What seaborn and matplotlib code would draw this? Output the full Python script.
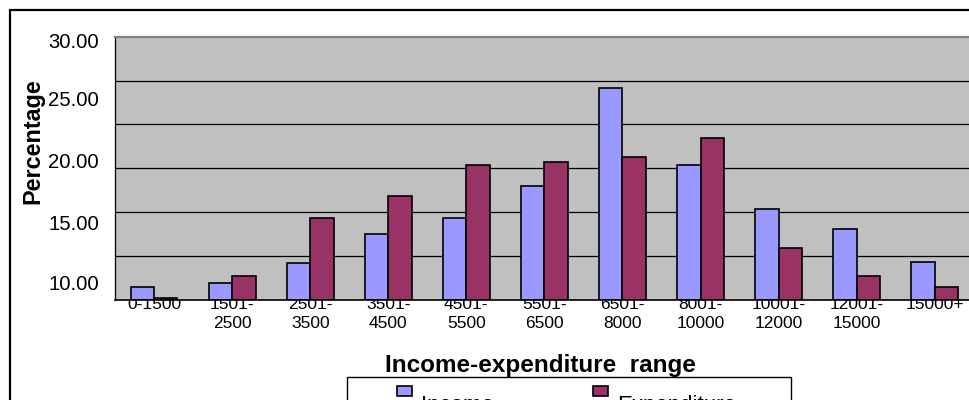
import numpy as np
import pandas as pd
import matplotlib
matplotlib.use("Agg")
import matplotlib.pyplot as plt
from matplotlib.patches import Rectangle
from matplotlib.ticker import FixedLocator, FixedFormatter
import seaborn as sns

# ---------------- data ----------------
categories = ["0-1500", "1501-2500", "2501-3500", "3501-4500", "4501-5500",
              "5501-6500", "6501-8000", "8001-10000", "10001-12000",
              "12001-15000", "15000+"]
tick_labels = ["0-1500", "1501-\n2500", "2501-\n3500", "3501-\n4500", "4501-\n5500",
               "5501-\n6500", "6501-\n8000", "8001-\n10000", "10001-\n12000",
               "12001-\n15000", "15000+"]
income = [1.52, 1.97, 4.22, 7.52, 9.30, 12.95, 24.15, 15.42, 10.41, 8.13, 4.33]
expenditure = [0.19, 2.73, 9.34, 11.89, 15.42, 15.69, 16.29, 18.42, 5.89, 2.73, 1.52]
series_names = ["Income", "Expenditure"]
y_tick_labels = ["30.00", "25.00", "20.00", "15.00", "10.00"]
x_title = "Income-expenditure  range"
y_title = "Percentage"

# ---------------- style ----------------
sns.set_style("white")
plt.rcParams["font.family"] = ["Liberation Sans", "DejaVu Sans"]
plt.rcParams["text.color"] = "black"
plt.rcParams["axes.labelcolor"] = "black"
plt.rcParams["xtick.color"] = "black"
plt.rcParams["ytick.color"] = "black"

df = pd.DataFrame({
    "range": categories * 2,
    "value": income + expenditure,
    "series": [series_names[0]] * len(categories) + [series_names[1]] * len(categories),
})

W, H = 969, 400
fig = plt.figure(figsize=(W / 100, H / 100), dpi=100)
fig.patch.set_facecolor("white")

ax_left, ax_right, ax_top, ax_bottom = 115, 973.8, 36.7, 300
ax = fig.add_axes([ax_left / W, 1 - ax_bottom / H,
                   (ax_right - ax_left) / W, (ax_bottom - ax_top) / H])

colors = ["#9999FF", "#993366"]
sns.barplot(data=df, x="range", y="value", hue="series", order=categories,
            hue_order=series_names, palette=colors, saturation=1, width=0.6,
            edgecolor="black", linewidth=1.2, legend=False, ax=ax)

ax.set_xlim(-0.5, len(categories) - 0.5)
ax.set_ylim(0, 30)
ax.set_xlabel("")
ax.set_ylabel("")
ax.set_axisbelow(True)
ax.set_facecolor("#C0C0C0")
# background that also hides the top of the first tick-label line (as in reference)
ax.add_patch(Rectangle((0, 0), 1, 1, transform=ax.transAxes,
                       facecolor="#C0C0C0", edgecolor="none", zorder=0.7))
for v in range(5, 30, 5):
    ax.axhline(v, color="black", lw=0.9, zorder=0.8)

# y axis: tick marks at gridlines, labels at their (offset) places
ax.set_yticks(np.arange(0, 31, 5))
ax.tick_params(axis="y", which="major", length=4, width=0.9, color="black",
               direction="out", labelleft=False)
label_px = [40, 99, 161, 222, 283]
label_vals = [(ax_bottom - p) / (ax_bottom - ax_top) * 30 for p in label_px]
ax.yaxis.set_minor_locator(FixedLocator(label_vals))
ax.yaxis.set_minor_formatter(FixedFormatter(y_tick_labels))
ax.tick_params(axis="y", which="minor", length=0, pad=11.5, labelsize=14.6,
               labelcolor="black")

# x axis
ax.set_xticks(range(len(categories)))
ax.set_xticklabels(tick_labels)
ax.tick_params(axis="x", which="major", length=0, pad=-2.5, labelsize=12.5,
               labelcolor="black")
for lab in ax.get_xticklabels():
    lab.set_linespacing(1.35)
ax.xaxis.set_minor_locator(FixedLocator(np.arange(-0.5, len(categories), 1.0)))
ax.tick_params(axis="x", which="minor", length=3, width=0.9, color="#555555",
               direction="out")

ax.spines["left"].set_color("black")
ax.spines["left"].set_linewidth(0.9)
ax.spines["bottom"].set_color("black")
ax.spines["bottom"].set_linewidth(1.2)
ax.spines["top"].set_color("#808080")
ax.spines["top"].set_linewidth(1.6)
ax.spines["right"].set_visible(False)

# axis titles
fig.text(540 / W, 1 - 371.7 / H, x_title, ha="center", va="baseline",
         fontsize=17.5, fontweight="bold", color="black")
fig.text(33.3 / W, 1 - 141.5 / H, y_title, rotation=90, ha="center", va="center",
         fontsize=16.8, fontweight="bold", color="black")

# outer chart frame
fig.add_artist(Rectangle((10 / W, -0.2), 1.2, 1.2 - 9.5 / H,
                         transform=fig.transFigure, fill=False,
                         edgecolor="black", lw=1.6))

# legend (cut off at the bottom, as in reference)
fig.add_artist(Rectangle((346.7 / W, -0.1), (790.7 - 346.7) / W,
                         0.1 + (400 - 376.7) / H, transform=fig.transFigure,
                         facecolor="white", edgecolor="black", lw=1.0))
for name, col, mx, tx in zip(series_names, colors, [396.7, 593.3], [421.0, 616.7]):
    fig.add_artist(Rectangle((mx / W, 1 - 396 / H), 15 / W, 10 / H,
                             transform=fig.transFigure, facecolor=col,
                             edgecolor="black", lw=1.2))
    fig.text(tx / W, 1 - 395 / H, name, ha="left", va="top", fontsize=16,
             color="black")

fig.savefig("out.png", dpi=100)
